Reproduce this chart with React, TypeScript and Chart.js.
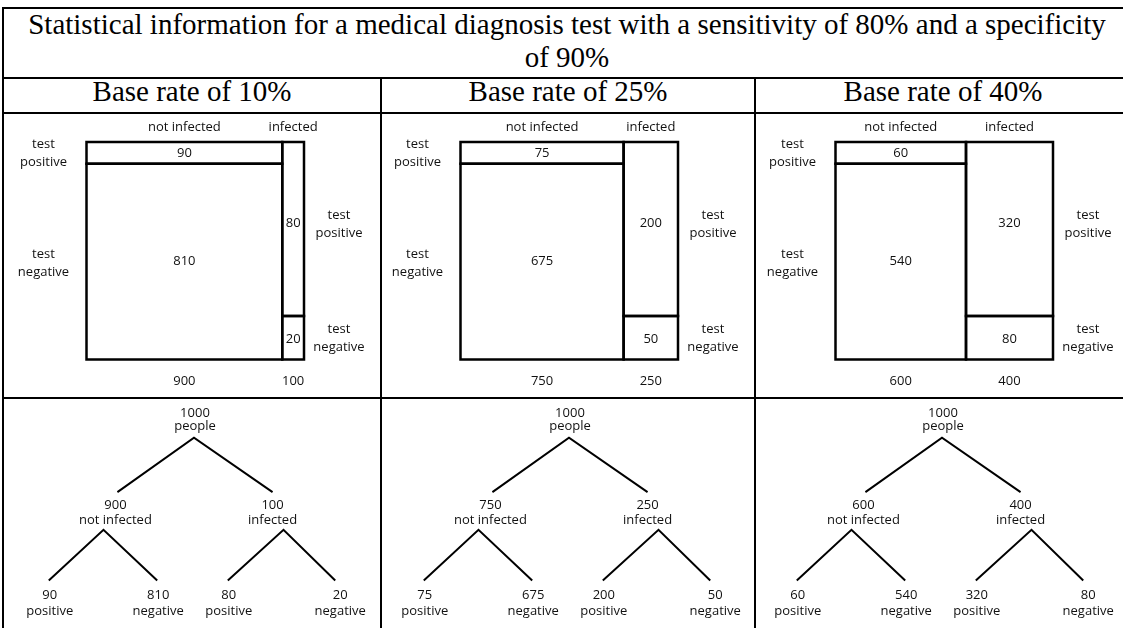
import React, { useEffect, useRef } from 'react';
import { Chart, registerables } from 'chart.js';

Chart.register(...registerables);

// ---------------- data ----------------
const baseRates = [10, 25, 40];
const totalPeople = 1000;
const notInfected = [900, 750, 600];
const infected = [100, 250, 400];
const notInfectedPositive = [90, 75, 60];
const notInfectedNegative = [810, 675, 540];
const infectedPositive = [80, 200, 320];
const infectedNegative = [20, 50, 80];
const titleLines = [
  'Statistical information for a medical diagnosis test with a sensitivity of 80% and a specificity',
  'of 90%',
];

// ---------------- layout / style ----------------
const W = 1123;
const H = 628;
const COL_LEFT = [4, 382, 756];
const COL_RIGHT = [380, 754, 1130];
const MOSAIC_LEFT = [86.5, 460.5, 835.5];
const MOSAIC_TOP = 142;
const MOSAIC_SIZE = 217.5;
const MOSAIC_CANVAS_TOP = 114;
const MOSAIC_CANVAS_H = 283;
const TREE_CANVAS_LEFT = [7, 382, 755];
const TREE_CANVAS_TOP = 399;
const TREE_CANVAS_W = 372;
const TREE_CANVAS_H = 229;
// tree layout (x in tree units 0..372, y in units 0..229 from top)
const TREE = {
  rootX: 187,
  rootLabelX: 188,
  l1EndX: [110, 266],
  l1LabelX: [108, 266],
  l1ApexX: [96, 277],
  leafX: [41, 150, 221, 329],
  leafLabelX: [42, 151, 222, 334],
  yRootNum: 13,
  yRootWord: 27,
  yRoot: 38,
  yL1End: 93,
  yL1Num: 106,
  yL1Word: 121,
  yL1Apex: 131,
  yLeaf: 182,
  yLeafNum: 197,
  yLeafWord: 213,
};
const TEXT_COLOR = '#111';
const LABEL_FONT = '13px "Open Sans", "Noto Sans", sans-serif';
const LINE_H = 18;
const SERIF = '"Liberation Serif", "Times New Roman", serif';

type Label = { x: number; y: number; text: string; dx?: number; dy?: number };

function makeLabelPlugin(labels: Label[]) {
  return {
    id: 'diagramLabels',
    afterDraw(chart: any) {
      const { ctx, scales } = chart;
      ctx.save();
      ctx.font = LABEL_FONT;
      ctx.fillStyle = TEXT_COLOR;
      ctx.textAlign = 'center';
      ctx.textBaseline = 'middle';
      for (const l of labels) {
        const px = scales.x.getPixelForValue(l.x) + (l.dx || 0);
        const py = scales.y.getPixelForValue(l.y) + (l.dy || 0);
        const lines = l.text.split('\n');
        lines.forEach((t, k) => {
          ctx.fillText(t, px, py + (k - (lines.length - 1) / 2) * LINE_H);
        });
      }
      ctx.restore();
    },
  };
}

function lineDataset(points: { x: number; y: number }[], width: number) {
  return {
    data: points,
    showLine: true,
    borderColor: '#000',
    borderWidth: width,
    pointRadius: 0,
    fill: false,
    tension: 0,
    clip: false as any,
    borderJoinStyle: 'miter' as const,
    borderCapStyle: 'square' as const,
  };
}

function baseOptions(padding: any, xMax: number, yMax: number) {
  return {
    responsive: false,
    animation: false as const,
    events: [] as any[],
    layout: { padding },
    scales: {
      x: { type: 'linear' as const, min: 0, max: xMax, display: false },
      y: { type: 'linear' as const, min: 0, max: yMax, reverse: true, display: false },
    },
    plugins: { legend: { display: false }, tooltip: { enabled: false }, title: { display: false } },
  };
}

function MosaicChart({ i }: { i: number }) {
  const ref = useRef<HTMLCanvasElement>(null);
  const cw = COL_RIGHT[i] - COL_LEFT[i];
  useEffect(() => {
    const ni = notInfected[i];
    const inf = infected[i];
    const fp = notInfectedPositive[i] / ni;
    const tp = infectedPositive[i] / inf;
    const rect = (x0: number, x1: number, y0: number, y1: number) => [
      { x: x0, y: y0 },
      { x: x1, y: y0 },
      { x: x1, y: y1 },
      { x: x0, y: y1 },
      { x: x0, y: y0 },
    ];
    const padLeft = MOSAIC_LEFT[i] - COL_LEFT[i];
    const padTop = MOSAIC_TOP - MOSAIC_CANVAS_TOP;
    const padding = {
      left: padLeft,
      top: padTop,
      right: cw - padLeft - MOSAIC_SIZE,
      bottom: MOSAIC_CANVAS_H - padTop - MOSAIC_SIZE,
    };
    const lw = 2.5;
    const datasets = [
      lineDataset(rect(0, ni, 0, fp), lw),
      lineDataset(rect(0, ni, fp, 1), lw),
      lineDataset(rect(ni, totalPeople, 0, tp), lw),
      lineDataset(rect(ni, totalPeople, tp, 1), lw),
    ];
    const cx0 = ni / 2;
    const cx1 = ni + inf / 2;
    const labels: Label[] = [
      { x: cx0, y: 0, dy: -15, text: 'not infected' },
      { x: cx1, y: 0, dy: -15, text: 'infected' },
      { x: 0, y: fp / 2, dx: -43, text: 'test\npositive' },
      { x: 0, y: (fp + 1) / 2, dx: -43, dy: 2, text: 'test\nnegative' },
      { x: totalPeople, y: tp / 2, dx: 35, dy: -5, text: 'test\npositive' },
      { x: totalPeople, y: (tp + 1) / 2, dx: 35, dy: 1, text: 'test\nnegative' },
      { x: cx0, y: fp / 2, text: String(notInfectedPositive[i]) },
      { x: cx0, y: (fp + 1) / 2, text: String(notInfectedNegative[i]) },
      { x: cx1, y: tp / 2, dy: -6, text: String(infectedPositive[i]) },
      { x: cx1, y: (tp + 1) / 2, dy: 2, text: String(infectedNegative[i]) },
      { x: cx0, y: 1, dy: 22, text: String(ni) },
      { x: cx1, y: 1, dy: 22, text: String(inf) },
    ];
    const chart = new Chart(ref.current as HTMLCanvasElement, {
      type: 'scatter',
      data: { datasets: datasets as any },
      options: baseOptions(padding, totalPeople, 1) as any,
      plugins: [makeLabelPlugin(labels)],
    });
    (document as any).fonts?.ready?.then(() => chart.update());
    return () => chart.destroy();
  }, []);
  return (
    <canvas
      ref={ref}
      width={cw}
      height={MOSAIC_CANVAS_H}
      style={{ position: 'absolute', left: COL_LEFT[i], top: MOSAIC_CANVAS_TOP, width: cw, height: MOSAIC_CANVAS_H }}
    />
  );
}

function TreeChart({ i }: { i: number }) {
  const ref = useRef<HTMLCanvasElement>(null);
  useEffect(() => {
    const T = TREE;
    const lw = 2;
    const datasets = [
      lineDataset(
        [
          { x: T.l1EndX[0], y: T.yL1End },
          { x: T.rootX, y: T.yRoot },
          { x: T.l1EndX[1], y: T.yL1End },
        ],
        lw
      ),
      lineDataset(
        [
          { x: T.leafX[0], y: T.yLeaf },
          { x: T.l1ApexX[0], y: T.yL1Apex },
          { x: T.leafX[1], y: T.yLeaf },
        ],
        lw
      ),
      lineDataset(
        [
          { x: T.leafX[2], y: T.yLeaf },
          { x: T.l1ApexX[1], y: T.yL1Apex },
          { x: T.leafX[3], y: T.yLeaf },
        ],
        lw
      ),
    ].map((d) => ({ ...d, borderJoinStyle: 'miter' as const, borderCapStyle: 'butt' as const }));
    const leafValues = [notInfectedPositive[i], notInfectedNegative[i], infectedPositive[i], infectedNegative[i]];
    const leafWords = ['positive', 'negative', 'positive', 'negative'];
    const labels: Label[] = [
      { x: T.rootLabelX, y: T.yRootNum, text: String(totalPeople) },
      { x: T.rootLabelX, y: T.yRootWord, text: 'people' },
      { x: T.l1LabelX[0], y: T.yL1Num, text: String(notInfected[i]) },
      { x: T.l1LabelX[0], y: T.yL1Word, text: 'not infected' },
      { x: T.l1LabelX[1], y: T.yL1Num, text: String(infected[i]) },
      { x: T.l1LabelX[1], y: T.yL1Word, text: 'infected' },
    ];
    leafValues.forEach((v, k) => {
      labels.push({ x: T.leafLabelX[k], y: T.yLeafNum, text: String(v) });
      labels.push({ x: T.leafLabelX[k], y: T.yLeafWord, text: leafWords[k] });
    });
    const chart = new Chart(ref.current as HTMLCanvasElement, {
      type: 'scatter',
      data: { datasets: datasets as any },
      options: baseOptions(0, TREE_CANVAS_W, TREE_CANVAS_H) as any,
      plugins: [makeLabelPlugin(labels)],
    });
    (document as any).fonts?.ready?.then(() => chart.update());
    return () => chart.destroy();
  }, []);
  return (
    <canvas
      ref={ref}
      width={TREE_CANVAS_W}
      height={TREE_CANVAS_H}
      style={{
        position: 'absolute',
        left: TREE_CANVAS_LEFT[i],
        top: TREE_CANVAS_TOP,
        width: TREE_CANVAS_W,
        height: TREE_CANVAS_H,
      }}
    />
  );
}

function Line({ left, top, width, height }: { left: number; top: number; width: number; height: number }) {
  return <div style={{ position: 'absolute', left, top, width, height, background: '#000' }} />;
}

export default function App() {
  return (
    <div
      style={{
        position: 'fixed',
        left: 0,
        top: 0,
        width: W,
        height: H,
        overflow: 'hidden',
        background: '#fff',
      }}
    >
      {/* title */}
      <div
        style={{
          position: 'absolute',
          left: 2,
          top: 8,
          width: 1130,
          textAlign: 'center',
          fontFamily: SERIF,
          fontSize: 29,
          lineHeight: '33px',
          color: '#000',
          whiteSpace: 'nowrap',
        }}
      >
        {titleLines[0]}
        <br />
        {titleLines[1]}
      </div>
      {/* headers */}
      {baseRates.map((r, i) => (
        <div
          key={'h' + i}
          style={{
            position: 'absolute',
            left: COL_LEFT[i],
            top: 75,
            width: COL_RIGHT[i] - COL_LEFT[i],
            textAlign: 'center',
            fontFamily: SERIF,
            fontSize: 29,
            lineHeight: '33px',
            color: '#000',
            whiteSpace: 'nowrap',
          }}
        >
          {`Base rate of ${r}%`}
        </div>
      ))}
      {baseRates.map((_, i) => (
        <MosaicChart key={'m' + i} i={i} />
      ))}
      {baseRates.map((_, i) => (
        <TreeChart key={'t' + i} i={i} />
      ))}
      {/* table borders */}
      <Line left={2} top={7} width={1130} height={2} />
      <Line left={2} top={77} width={1130} height={2} />
      <Line left={2} top={112} width={1130} height={2} />
      <Line left={2} top={397} width={1130} height={2} />
      <Line left={2} top={7} width={2} height={640} />
      <Line left={380} top={77} width={2} height={600} />
      <Line left={754} top={77} width={2} height={600} />
    </div>
  );
}
